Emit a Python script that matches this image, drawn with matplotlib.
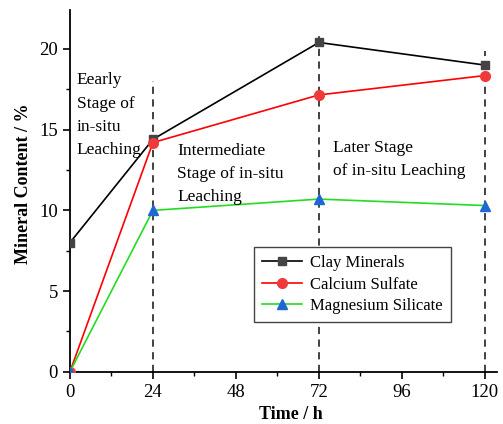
import matplotlib.pyplot as plt
from matplotlib.ticker import MultipleLocator

plt.rcParams['font.family'] = ['Liberation Serif', 'DejaVu Serif']

# data
time_h = [0, 24, 72, 120]
clay = [8.0, 14.4, 20.4, 19.0]
calcium = [0.0, 14.2, 17.15, 18.35]
magnesium = [0.0, 10.0, 10.7, 10.3]
stage_lines = [24, 72, 120]
stage_tops = [18.0, 20.9, 19.9]
x_ticks = [0, 24, 48, 72, 96, 120]
y_ticks = [0, 5, 10, 15, 20]

fig = plt.figure(figsize=(5.03, 4.24), dpi=100)
ax = fig.add_axes([0.139, 0.123, 0.849, 0.853])

for x, top in zip(stage_lines, stage_tops):
    ax.plot([x, x], [0, top], color="#333333", linestyle=(0, (4, 3)), linewidth=1.3, zorder=1)

ax.plot(time_h, clay, color="black", linewidth=1.2, marker="s", markersize=6,
        markerfacecolor="#444444", markeredgecolor="#444444", label="Clay Minerals", zorder=3)
ax.plot(time_h, calcium, color="red", linewidth=1.2, marker="o", markersize=7,
        markerfacecolor="#f03a3a", markeredgecolor="#f03a3a", label="Calcium Sulfate", zorder=3)
ax.plot(time_h, magnesium, color="#22dd22", linewidth=1.2, marker="^", markersize=7,
        markerfacecolor="#1f66d6", markeredgecolor="#1f66d6", label="Magnesium Silicate", zorder=3)

ax.text(2, 18.55, "Eearly\nStage of\nin-situ\nLeaching", fontsize=12.5, va="top", linespacing=1.6)
ax.text(31, 14.2, "Intermediate\nStage of in-situ\nLeaching", fontsize=12.5, va="top", linespacing=1.6)
ax.text(76, 14.35, "Later Stage\nof in-situ Leaching", fontsize=12.5, va="top", linespacing=1.6)

ax.set_xlim(0, 123.5)
ax.set_ylim(0, 22.4)
ax.set_xticks(x_ticks)
ax.set_yticks(y_ticks)
ax.xaxis.set_minor_locator(MultipleLocator(12))
ax.yaxis.set_minor_locator(MultipleLocator(2.5))
ax.tick_params(axis="both", which="major", direction="out", length=5, width=1.2, labelsize=13.5)
ax.tick_params(axis="both", which="minor", direction="out", length=3, width=1.0)
for side in ["top", "right"]:
    ax.spines[side].set_visible(False)
for side in ["left", "bottom"]:
    ax.spines[side].set_linewidth(1.3)

ax.set_xlabel("Time / h", fontsize=13, fontweight="bold")
ax.set_ylabel("Mineral Content / %", fontsize=13, fontweight="bold")
ax.xaxis.set_label_coords(0.518, -0.095)
ax.yaxis.set_label_coords(-0.089, 0.52)

leg = ax.legend(loc="lower right", bbox_to_anchor=(0.911, 0.114), fontsize=12,
                fancybox=False, framealpha=1, edgecolor="#444444", handlelength=2.4,
                borderpad=0.5, labelspacing=0.32, handletextpad=0.45)
leg.get_frame().set_linewidth(1.0)

fig.savefig("out.png", dpi=100)
